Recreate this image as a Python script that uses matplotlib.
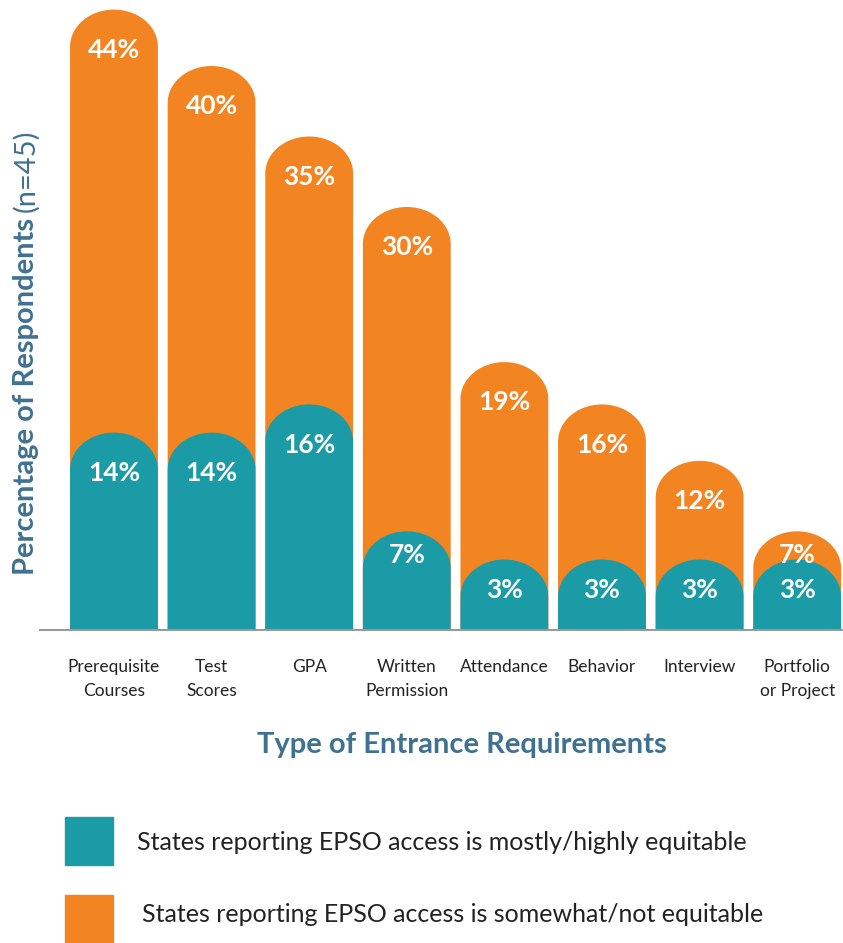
import numpy as np
import matplotlib
matplotlib.use("Agg")
import matplotlib.pyplot as plt
from matplotlib.patches import Polygon, Rectangle

plt.rcParams['font.family'] = ['Lato', 'DejaVu Sans']

categories = ["Prerequisite\nCourses", "Test\nScores", "GPA", "Written\nPermission",
              "Attendance", "Behavior", "Interview", "Portfolio\nor Project"]
not_equitable = [44, 40, 35, 30, 19, 16, 12, 7]
equitable = [14, 14, 16, 7, 3, 3, 3, 3]

orange = "#F28522"
teal = "#1B9BA6"
blue = "#3F7191"

W, H = 843, 943
fig = plt.figure(figsize=(W / 100, H / 100), dpi=100)
ax = fig.add_axes([40 / W, (H - 630) / H, 1 - 40 / W, 630 / H])

ymax = 630 / 14.1
ax.set_ylim(0, ymax)
ax.set_xlim(-0.758, -0.758 + 803 / 97.6)

bar_w = 0.90
cap_h = 37 / 14.1  # height of the rounded top, data units
min_h = 5.0        # short bars get a minimum height so the label fits


def round_bar(x, h, color, z):
    h = max(h, min_h)
    t = np.linspace(0, np.pi, 60)
    xs = x + (bar_w / 2) * np.cos(t)
    ys = (h - cap_h) + cap_h * np.sin(t)
    pts = [(x + bar_w / 2, 0)] + list(zip(xs, ys)) + [(x - bar_w / 2, 0)]
    ax.add_patch(Polygon(pts, closed=True, facecolor=color, edgecolor='none', zorder=z))
    return h


def label_offset(h):
    if h >= 10:
        return 2.85
    if h > min_h:
        return 1.7
    return 2.13


xs = np.arange(len(categories))
for i in xs:
    h1 = round_bar(i, not_equitable[i], orange, 2)
    ax.text(i, h1 - label_offset(h1), f"{not_equitable[i]}%", color='white', fontsize=19,
            fontweight='bold', ha='center', va='center', zorder=5)
    h2 = round_bar(i, equitable[i], teal, 3)
    ax.text(i, h2 - label_offset(h2), f"{equitable[i]}%", color='white', fontsize=19,
            fontweight='bold', ha='center', va='center', zorder=5)

for s in ['top', 'right', 'left']:
    ax.spines[s].set_visible(False)
ax.spines['bottom'].set_color('#9a9a9a')
ax.spines['bottom'].set_linewidth(1.5)
ax.spines['bottom'].set_zorder(6)
ax.set_yticks([])
ax.set_xticks(xs)
ax.set_xticklabels(categories, fontsize=12.5, color='#222222', linespacing=1.6)
ax.tick_params(axis='x', length=0, pad=21)
ax.patch.set_visible(False)

fig.text(462 / W, 1 - 745 / H, "Type of Entrance Requirements", color=blue,
         fontsize=21, fontweight='bold', ha='center', va='center')

# y label: bold part + regular part
t1 = fig.text(26 / W, 1 - 575 / H, "Percentage of Respondents", color=blue,
              fontsize=21, fontweight='bold', rotation=90, ha='center', va='bottom')
fig.canvas.draw()
bb = t1.get_window_extent()
fig.text(26 / W, (bb.y1 + 6) / H, "(n=45)", color=blue, fontsize=21,
         rotation=90, ha='center', va='bottom')

# legend
fig.patches.append(Rectangle((65 / W, 1 - 865 / H), 48 / W, 48 / H, color=teal,
                             transform=fig.transFigure, figure=fig))
fig.patches.append(Rectangle((65 / W, 1 - 943 / H), 48 / W, 48 / H, color=orange,
                             transform=fig.transFigure, figure=fig))
fig.text(137 / W, 1 - 842 / H, "States reporting EPSO access is mostly/highly equitable",
         fontsize=18, color='#222222', ha='left', va='center')
fig.text(142 / W, 1 - 915 / H, "States reporting EPSO access is somewhat/not equitable",
         fontsize=18, color='#222222', ha='left', va='center')

fig.savefig("out.png", dpi=100)
